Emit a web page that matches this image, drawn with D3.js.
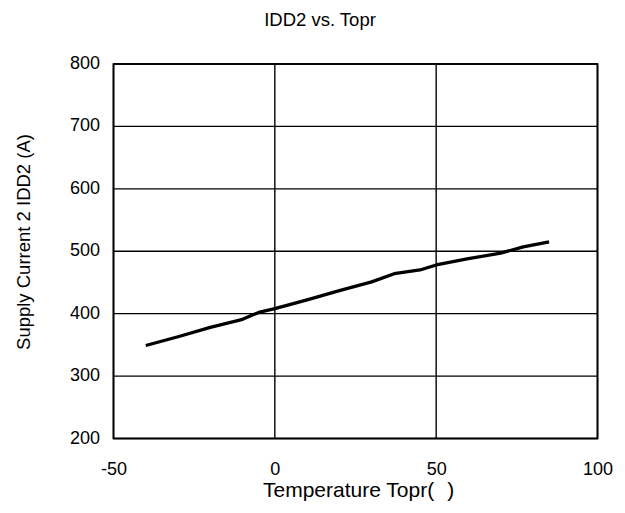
<!DOCTYPE html>
<html><head><meta charset="utf-8">
<script src="https://cdn.jsdelivr.net/npm/d3@7"></script>
<style>body{margin:0;background:#fff}svg{display:block}text{font-family:"Liberation Sans",Arial,sans-serif;fill:#000}</style>
</head><body>
<script>
const temps = [-40, -30, -20, -10, -5, 0, 10, 20, 30, 37, 45, 50, 60, 70, 77, 85];
const idd2 = [349, 363, 378, 391, 402, 408, 422, 437, 451, 464, 470, 478, 488, 497, 507, 515];
const xTicks = [-50, 0, 50, 100];
const yTicks = [200, 300, 400, 500, 600, 700, 800];
const title = "IDD2 vs. Topr";
const xTitle = "Temperature Topr(";
const xTitleEnd = ")";
const yTitle = "Supply Current 2 IDD2 (A)";

const W = 625, H = 513;
const x = d3.scaleLinear().domain([-50, 100]).range([113.5, 597.5]);
const y = d3.scaleLinear().domain([200, 800]).range([438.5, 64]);
const svg = d3.select("body").append("svg").attr("width", W).attr("height", H);
const FONT = '"Liberation Sans",Arial,sans-serif';

const g = svg.append("g");
g.selectAll(".gx").data(xTicks).join("line")
  .attr("x1", d => x(d)).attr("x2", d => x(d)).attr("y1", y(200)).attr("y2", y(800))
  .attr("stroke", "#000").attr("stroke-width", 1.4);
g.selectAll(".gy").data(yTicks).join("line")
  .attr("x1", x(-50)).attr("x2", x(100)).attr("y1", d => y(d)).attr("y2", d => y(d))
  .attr("stroke", "#000").attr("stroke-width", 1.4);
g.append("rect").attr("x", x(-50)).attr("y", y(800)).attr("width", x(100) - x(-50)).attr("height", y(200) - y(800))
  .attr("fill", "none").attr("stroke", "#000").attr("stroke-width", 1.8);

const xa = svg.append("g").attr("transform", `translate(0,${y(200)})`)
  .call(d3.axisBottom(x).tickValues(xTicks).tickFormat(d => String(d)).tickSize(0).tickPadding(0));
xa.select(".domain").remove();
xa.selectAll("text").attr("font-size", 18).attr("font-family", FONT).attr("fill", "#000")
  .attr("dy", null).attr("y", 36.5);
const ya = svg.append("g").attr("transform", `translate(${x(-50)},0)`)
  .call(d3.axisLeft(y).tickValues(yTicks).tickSize(0).tickPadding(13.5));
ya.select(".domain").remove();
ya.selectAll("text").attr("font-size", 18).attr("font-family", FONT).attr("fill", "#000").attr("dy", "0.25em");

svg.append("path").datum(temps.map((t, i) => [t, idd2[i]]))
  .attr("d", d3.line().x(d => x(d[0])).y(d => y(d[1])))
  .attr("fill", "none").attr("stroke", "#000").attr("stroke-width", 3.3).attr("stroke-linejoin", "round");

svg.append("text").attr("x", 320).attr("y", 26).attr("text-anchor", "middle").attr("font-size", 18.5).text(title);
const xt = svg.append("text").attr("x", 263).attr("y", 497).attr("text-anchor", "start").attr("font-size", 21).text(xTitle);
xt.append("tspan").attr("dx", 13).text(xTitleEnd);
svg.append("text").attr("transform", "translate(30,242) rotate(-90)").attr("text-anchor", "middle").attr("font-size", 18.5).text(yTitle);
</script>
</body></html>
